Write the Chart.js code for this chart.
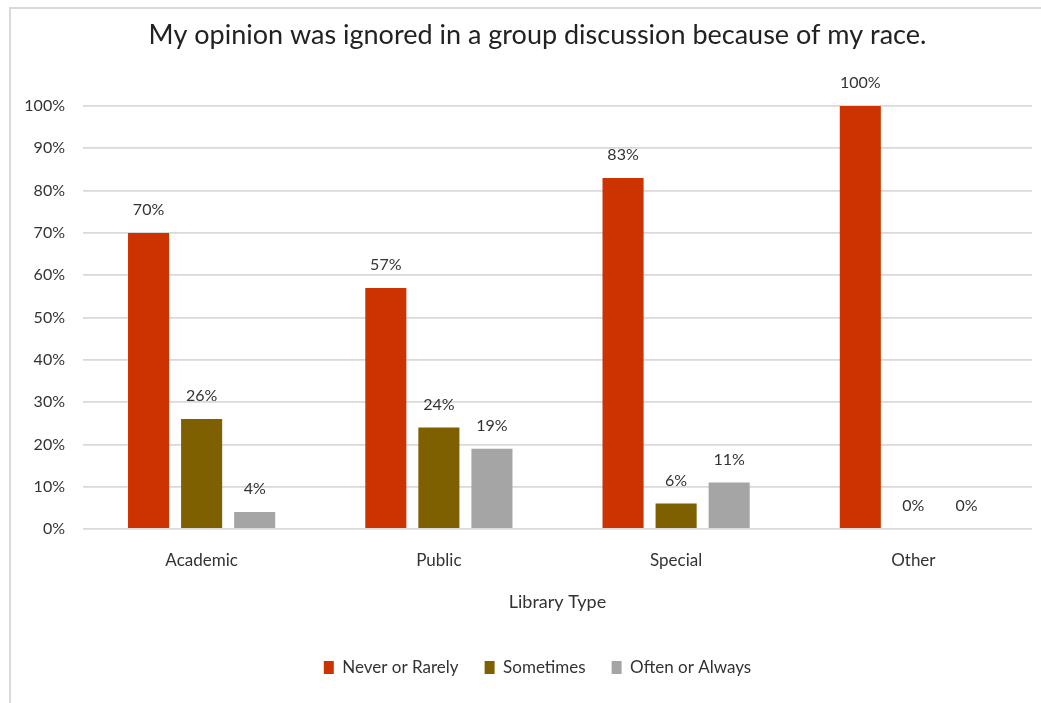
<!DOCTYPE html>
<html>
<head>
<meta charset="utf-8">
<title>My opinion was ignored in a group discussion because of my race.</title>
<script src="https://cdn.jsdelivr.net/npm/chart.js@4/dist/chart.umd.min.js"></script>
<style>
  html, body { margin: 0; padding: 0; background: #ffffff; }
  #wrap { position: relative; width: 1041px; height: 703px; overflow: hidden; }
  #frame {
    position: absolute; left: 9px; top: 7px; right: 0; bottom: 0;
    border-top: 2px solid #d9d9d9; border-left: 2px solid #d9d9d9;
  }
  #chart { position: absolute; left: 0; top: 0; }
</style>
</head>
<body>
<div id="wrap">
  <div id="frame"></div>
  <canvas id="chart" width="1041" height="703"></canvas>
</div>
<script>
// Survey responses by library type (percent of respondents)
const chartTitle = 'My opinion was ignored in a group discussion because of my race.';
const libraryTypes = ['Academic', 'Public', 'Special', 'Other'];
const seriesNames = ['Never or Rarely', 'Sometimes', 'Often or Always'];
const neverOrRarely = [70, 57, 83, 100];
const sometimes = [26, 24, 6, 0];
const oftenOrAlways = [4, 19, 11, 0];
const seriesColors = ['#cc3300', '#7f6000', '#a5a5a5'];
const yAxisMax = 100;
const yAxisStep = 10;

const FONT = "Lato, 'Open Sans', 'Liberation Sans', sans-serif";
const TEXT = '#333333';
const Y_AXIS_WIDTH = 58;
const LABEL_GAP = 18;

// Writes each bar's value just above it
const valueLabels = {
  id: 'valueLabels',
  afterDatasetsDraw(chart) {
    const ctx = chart.ctx;
    ctx.save();
    ctx.font = '16px ' + FONT;
    ctx.fillStyle = TEXT;
    ctx.textAlign = 'center';
    ctx.textBaseline = 'middle';
    chart.data.datasets.forEach((ds, i) => {
      const meta = chart.getDatasetMeta(i);
      meta.data.forEach((bar, j) => {
        ctx.fillText(ds.data[j] + '%', bar.x, bar.y - 23);
      });
    });
    ctx.restore();
  }
};

// Heading and legend are centred over the frame minus the tick-label column
const centring = {
  id: 'centring',
  afterLayout(chart) {
    if (chart.legend) {
      chart.legend.left = chart.chartArea.left - Y_AXIS_WIDTH + LABEL_GAP;
    }
  },
  afterDraw(chart) {
    const ctx = chart.ctx;
    const area = chart.chartArea;
    const cx = (area.left - Y_AXIS_WIDTH + LABEL_GAP + area.right) / 2;
    ctx.save();
    ctx.font = '27px ' + FONT;
    ctx.fillStyle = '#222222';
    ctx.textAlign = 'center';
    ctx.textBaseline = 'middle';
    ctx.fillText(chartTitle, cx, 35);
    ctx.restore();
  }
};

new Chart(document.getElementById('chart'), {
  type: 'bar',
  data: {
    labels: libraryTypes,
    datasets: [
      { label: seriesNames[0], data: neverOrRarely, backgroundColor: seriesColors[0] },
      { label: seriesNames[1], data: sometimes, backgroundColor: seriesColors[1] },
      { label: seriesNames[2], data: oftenOrAlways, backgroundColor: seriesColors[2] }
    ]
  },
  options: {
    responsive: false,
    animation: false,
    layout: { padding: { left: 25, right: 9, top: 106, bottom: 17 } },
    datasets: {
      bar: { categoryPercentage: 0.671, barPercentage: 0.774 }
    },
    plugins: {
      tooltip: { enabled: false },
      title: { display: false },
      legend: {
        position: 'bottom',
        labels: {
          color: TEXT,
          font: { family: FONT, size: 17 },
          boxWidth: 10,
          boxHeight: 13,
          padding: 26
        }
      }
    },
    scales: {
      x: {
        grid: { display: false, drawTicks: false },
        border: { display: false },
        ticks: { color: TEXT, font: { family: FONT, size: 17 }, padding: 21 },
        title: {
          display: true,
          text: 'Library Type',
          color: TEXT,
          font: { family: FONT, size: 18 },
          padding: { top: 0, bottom: 20 }
        }
      },
      y: {
        min: 0,
        max: yAxisMax,
        afterFit(scale) { scale.width = Y_AXIS_WIDTH; },
        grid: { color: '#d9d9d9', lineWidth: 1.8, drawTicks: false },
        border: { display: false },
        ticks: {
          stepSize: yAxisStep,
          color: TEXT,
          font: { family: FONT, size: 16 },
          padding: LABEL_GAP,
          callback: v => v + '%'
        }
      }
    }
  },
  plugins: [valueLabels, centring]
});
</script>
</body>
</html>
